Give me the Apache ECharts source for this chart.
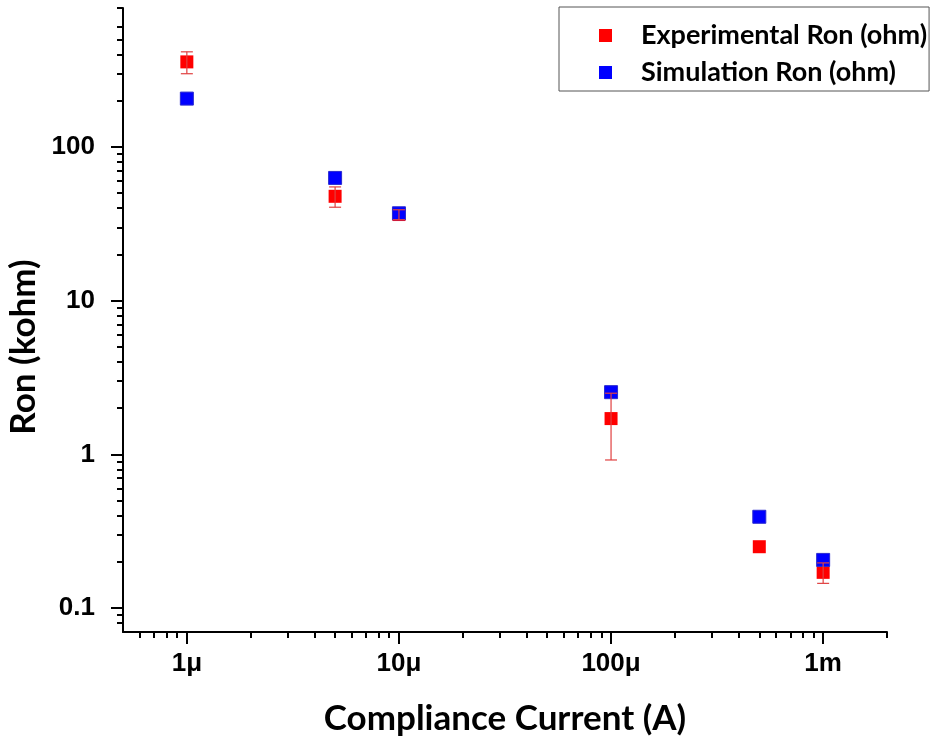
<!DOCTYPE html>
<html><head><meta charset="utf-8">
<script src="https://cdn.jsdelivr.net/npm/echarts@6/dist/echarts.min.js"></script>
<style>html,body{margin:0;padding:0;background:#fff}#c{width:932px;height:738px}</style>
</head><body><div id="c"></div>
<script>
// Data (resistance in kohm, current in A)
var currents = [1e-6, 5e-6, 1e-5, 1e-4, 5e-4, 1e-3];
var expRon   = [357, 47.7, 36.3, 1.71, 0.251, 0.171];
var expErr   = [58, 7.2, 2.7, 0.79, 0, 0.026];
var simRon   = [206, 62.8, 37.0, 2.54, 0.393, 0.206];
var xTickValues = [1e-6, 1e-5, 1e-4, 1e-3];
var xTickLabels = ['1μ', '10μ', '100μ', '1m'];
var yTickValues = [0.1, 1, 10, 100];
var yTickLabels = ['0.1', '1', '10', '100'];
var xMinorValues = [6e-7,7e-7,8e-7,9e-7, 2e-6,3e-6,4e-6,5e-6,6e-6,7e-6,8e-6,9e-6,
  2e-5,3e-5,4e-5,5e-5,6e-5,7e-5,8e-5,9e-5, 2e-4,3e-4,4e-4,5e-4,6e-4,7e-4,8e-4,9e-4, 2e-3];
var yMinorValues = [0.08,0.09, 0.2,0.3,0.4,0.5,0.6,0.7,0.8,0.9, 2,3,4,5,6,7,8,9,
  20,30,40,50,60,70,80,90, 200,300,400,500,600,800];

var X_MIN = 5e-7, X_MAX = 2e-3, Y_MIN = 0.07, Y_MAX = 800;

function labelFor(vals, labs) {
  return function (v) {
    for (var i = 0; i < vals.length; i++) if (Math.abs(Math.log10(v) - Math.log10(vals[i])) < 1e-6) return labs[i];
    return '';
  };
}

var gridRect = {left: 123, right: 45, top: 8, bottom: 106, containLabel: false, outerBoundsMode: 'none'};
var labelFont = {fontFamily: '"Liberation Sans", Arial, sans-serif', fontWeight: 'bold', fontSize: 26, color: '#000'};
var titleFont = {fontFamily: 'Lato', fontWeight: 'bold', fontSize: 35, color: '#000'};

var chart = echarts.init(document.getElementById('c'), null, {renderer: 'canvas'});
chart.setOption({
  animation: false,
  backgroundColor: '#fff',
  grid: [Object.assign({}, gridRect), Object.assign({}, gridRect)],
  legend: {
    data: ['Experimental Ron (ohm)', 'Simulation Ron (ohm)'],
    orient: 'vertical', left: 559, top: 7,
    padding: [15, 2, 5, 40], itemGap: 10,
    itemWidth: 13, itemHeight: 13, itemStyle: {borderWidth: 0},
    borderColor: '#555', borderWidth: 1,
    textStyle: {fontFamily: 'Lato', fontWeight: 'bold', fontSize: 27, lineHeight: 26, color: '#000', padding: [0, 0, 0, 24]}
  },
  xAxis: [{
    type: 'log', logBase: 10, gridIndex: 0, min: X_MIN, max: X_MAX,
    name: 'Compliance Current (A)', nameLocation: 'middle', nameGap: 69,
    nameTextStyle: titleFont,
    axisLine: {show: true, lineStyle: {color: '#000', width: 2}},
    axisTick: {show: true, length: 12, lineStyle: {color: '#000', width: 2}, customValues: xTickValues},
    axisLabel: Object.assign({margin: 19, customValues: xTickValues, formatter: labelFor(xTickValues, xTickLabels)}, labelFont),
    splitLine: {show: false}, minorTick: {show: false}
  }, {
    type: 'log', logBase: 10, gridIndex: 1, min: X_MIN, max: X_MAX, position: 'bottom',
    axisLine: {show: false},
    axisTick: {show: true, length: 6, lineStyle: {color: '#000', width: 2}, customValues: xMinorValues},
    axisLabel: {show: false}, splitLine: {show: false}
  }],
  yAxis: [{
    type: 'log', logBase: 10, gridIndex: 0, min: Y_MIN, max: Y_MAX,
    name: 'Ron (kohm)', nameLocation: 'middle', nameGap: 76, nameRotate: 90,
    nameTextStyle: Object.assign({padding: [0, 54, 0, 0]}, titleFont),
    axisLine: {show: true, lineStyle: {color: '#000', width: 2}},
    axisTick: {show: true, length: 12, lineStyle: {color: '#000', width: 2}, customValues: yTickValues},
    axisLabel: Object.assign({margin: 28, customValues: yTickValues, formatter: labelFor(yTickValues, yTickLabels)}, labelFont),
    splitLine: {show: false}, minorTick: {show: false}
  }, {
    type: 'log', logBase: 10, gridIndex: 1, min: Y_MIN, max: Y_MAX, position: 'left',
    axisLine: {show: false},
    axisTick: {show: true, length: 6, lineStyle: {color: '#000', width: 2}, customValues: yMinorValues},
    axisLabel: {show: false}, splitLine: {show: false}
  }],
  series: [{
    name: 'Experimental Ron (ohm)', type: 'scatter', xAxisIndex: 0, yAxisIndex: 0,
    symbol: 'rect', symbolSize: 13, z: 2,
    itemStyle: {color: '#ff0000', opacity: 1},
    data: currents.map(function (c, i) { return [c, expRon[i]]; })
  }, {
    name: 'Simulation Ron (ohm)', type: 'scatter', xAxisIndex: 0, yAxisIndex: 0,
    symbol: 'rect', symbolSize: 13, z: 3,
    itemStyle: {color: '#0000ff', borderColor: '#2a2ad0', borderWidth: 1, opacity: 1},
    data: currents.map(function (c, i) { return [c, simRon[i]]; })
  }, {
    name: 'err', type: 'custom', xAxisIndex: 0, yAxisIndex: 0, z: 4, silent: true,
    data: currents.map(function (c, i) { return [c, expRon[i] - expErr[i], expRon[i] + expErr[i]]; }),
    renderItem: function (params, api) {
      if (api.value(1) === api.value(2)) return null;
      var lo = api.coord([api.value(0), api.value(1)]);
      var hi = api.coord([api.value(0), api.value(2)]);
      var hw = 6;
      var st = {stroke: '#e04040', lineWidth: 1.2};
      return {type: 'group', children: [
        {type: 'line', shape: {x1: lo[0], y1: lo[1], x2: hi[0], y2: hi[1]}, style: st},
        {type: 'line', shape: {x1: lo[0] - hw, y1: lo[1], x2: lo[0] + hw, y2: lo[1]}, style: st},
        {type: 'line', shape: {x1: hi[0] - hw, y1: hi[1], x2: hi[0] + hw, y2: hi[1]}, style: st}
      ]};
    }
  }]
});
</script></body></html>
